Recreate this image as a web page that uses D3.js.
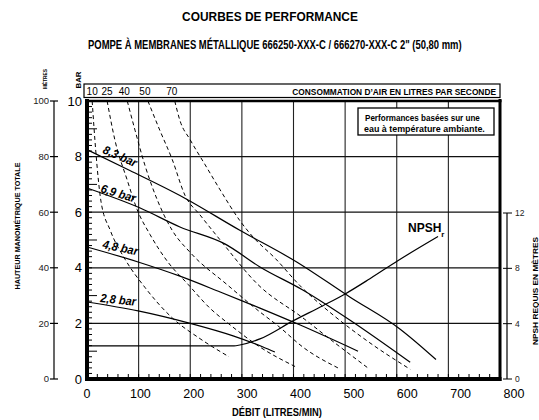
<!DOCTYPE html>
<html>
<head>
<meta charset="utf-8">
<script src="https://cdn.jsdelivr.net/npm/d3@7"></script>
<style>
	body { margin: 0; background: #fff; }
	text { font-family: "Liberation Sans Narrow", "Liberation Sans", Arial, sans-serif; fill: #000; }
</style>
</head>
<body>
<script>
const WIDTH = 539;
const HEIGHT = 420;

// axis ticks
const flowTicks = [0, 100, 200, 300, 400, 500, 600, 700, 800];
const barTicks = [0, 2, 4, 6, 8, 10];
const metreTicks = [0, 20, 40, 60, 80, 100];
const npshTicks = [0, 4, 8, 12];

// air consumption curves (litres per second), [flow L/min, bar]
const airLabels = ["10", "25", "40", "50", "70"];
const air10 = [[10, 10], [17, 8.2], [27, 6.4], [45, 5.35], [74, 4.3], [112, 3.3], [165, 2.2], [219, 1.45], [275, 0.8]];
const air25 = [[39, 10], [54, 8.6], [78, 7.15], [97, 6.1], [122, 5.2], [157, 4.2], [196, 3.4], [238, 2.55], [277, 1.95], [335, 1.15], [403, 0.45]];
const air40 = [[78, 10], [93, 8.95], [112, 7.7], [136, 6.45], [165, 5.35], [200, 4.55], [271, 3.4], [329, 2.5], [374, 1.85], [418, 1.15], [486, 0.4]];
const air50 = [[118, 10], [141, 8.95], [165, 7.9], [190, 6.6], [219, 5.9], [258, 5.0], [331, 3.4], [418, 2.2], [480, 1.3], [544, 0.4]];
const air70 = [[170, 10], [180, 9.3], [200, 8.6], [229, 7.7], [258, 6.8], [296, 5.7], [322, 5.1], [364, 4.35], [413, 3.35], [477, 2.3], [548, 1.3], [626, 0.35]];

// inlet air pressure curves, [flow L/min, bar]
const pressureLabels = ["8,3 bar", "6,9 bar", "4,8 bar", "2,8 bar"];
const p83 = [[0, 8.25], [83, 7.5], [180, 6.6], [296, 5.35], [407, 4.2], [509, 2.95], [606, 1.8], [676, 0.7]];
const p69 = [[0, 6.87], [103, 6.15], [180, 5.47], [267, 4.86], [335, 4.03], [418, 3.2], [509, 2.12], [626, 0.6]];
const p48 = [[0, 4.75], [99, 4.21], [180, 3.7], [258, 3.13], [335, 2.55], [413, 1.94], [525, 1.0]];
const p28 = [[0, 2.77], [99, 2.45], [200, 2.0], [283, 1.55], [341, 1.15], [364, 0.97]];

// NPSH required, [flow L/min, metres]
const npsh = [[0, 2.4], [285, 2.4], [296, 2.46], [335, 2.9], [399, 4.2], [457, 5.3], [500, 6.15], [548, 7.25], [602, 8.55], [680, 10.3]];

const svg = d3.select("body").append("svg")
	.attr("width", WIDTH)
	.attr("height", HEIGHT);

// scales
const x = d3.scaleLinear().domain([0, 800]).range([87, 500]);
const xLab = d3.scaleLinear().domain([0, 800]).range([87, 514]); // printed labels drift right
const y = d3.scaleLinear().domain([0, 10]).range([379, 101]);
const yM = d3.scaleLinear().domain([0, 100]).range([379, 101]);
const yN = d3.scaleLinear().domain([0, 12]).range([379, 213]);

// squeeze a text horizontally to a given width (condensed type look)
function fitText(sel, px, py, width, rot) {
	const k = width / sel.node().getComputedTextLength();
	sel.attr("transform", `translate(${px},${py})${rot ? ` rotate(${rot})` : ""} scale(${k},1)`);
	return sel;
}

function label(str, size, anchor) {
	return svg.append("text")
		.attr("text-anchor", anchor || "start")
		.style("font-weight", "bold").style("font-size", size + "px")
		.text(str);
}

// titles
fitText(label("COURBES DE PERFORMANCE", 12, "middle")
	.style("font-family", "'Liberation Sans', Arial, sans-serif"), 270, 21, 176);

fitText(label("POMPE À MEMBRANES MÉTALLIQUE 666250-XXX-C / 666270-XXX-C 2\" (50,80 mm)", 12), 88, 49, 374);

// grid
svg.append("g").selectAll("line")
	.data(flowTicks.slice(1, -1))
	.join("line")
	.attr("x1", d => x(d)).attr("x2", d => x(d))
	.attr("y1", y(10)).attr("y2", y(0))
	.attr("stroke", "#222").attr("stroke-width", 1.1);

svg.append("g").selectAll("line")
	.data(barTicks.slice(1, -1))
	.join("line")
	.attr("x1", x(0)).attr("x2", x(800))
	.attr("y1", d => y(d)).attr("y2", d => y(d))
	.attr("stroke", "#111").attr("stroke-width", 1.2);

// minor ticks along left and bottom edges
svg.append("g").selectAll("line")
	.data(d3.range(1, 50))
	.join("line")
	.attr("x1", x(0))
	.attr("x2", i => x(0) + ((i % 5 === 0 && (i / 5) % 2 === 1) ? 10 : 5))
	.attr("y1", i => y(i / 5)).attr("y2", i => y(i / 5))
	.attr("stroke", "#000").attr("stroke-width", 1);

svg.append("g").selectAll("line")
	.data(d3.range(1, 40).map(i => i * 20))
	.join("line")
	.attr("x1", d => x(d)).attr("x2", d => x(d))
	.attr("y1", y(0)).attr("y2", y(0) - 5)
	.attr("stroke", "#000").attr("stroke-width", 1);

// frame
svg.append("line").attr("x1", x(0)).attr("x2", x(0)).attr("y1", 99).attr("y2", 381)
	.attr("stroke", "#000").attr("stroke-width", 4);
svg.append("line").attr("x1", 85).attr("x2", 501.5).attr("y1", y(0)).attr("y2", y(0))
	.attr("stroke", "#000").attr("stroke-width", 4);
svg.append("line").attr("x1", x(800)).attr("x2", x(800)).attr("y1", 99).attr("y2", 381)
	.attr("stroke", "#000").attr("stroke-width", 3);
svg.append("line").attr("x1", 85).attr("x2", 501.5).attr("y1", y(10)).attr("y2", y(10))
	.attr("stroke", "#000").attr("stroke-width", 2.5);

// air consumption header
svg.append("rect")
	.attr("x", 84).attr("y", 84).attr("width", 416).attr("height", 13.5)
	.attr("fill", "none").attr("stroke", "#000").attr("stroke-width", 1.2);

const airSeries = [air10, air25, air40, air50, air70];

svg.append("g").selectAll("text")
	.data(airSeries)
	.join("text")
	.attr("x", (d, i) => x(d[0][0]) - (i > 1 ? 3 : 0))
	.attr("y", 95)
	.attr("text-anchor", "middle")
	.style("font-size", "10px")
	.text((d, i) => airLabels[i]);

fitText(label("CONSOMMATION D’AIR EN LITRES PAR SECONDE", 9, "end"), 496, 95, 204);

// curves
const line = d3.line()
	.x(d => x(d[0]))
	.y(d => y(d[1]))
	.curve(d3.curveMonotoneX);

svg.append("g").selectAll("path")
	.data(airSeries)
	.join("path")
	.attr("d", line)
	.attr("fill", "none")
	.attr("stroke", "#000").attr("stroke-width", 1)
	.attr("stroke-dasharray", "4,3");

const pressureSeries = [p83, p69, p48, p28];

svg.append("g").selectAll("path")
	.data(pressureSeries)
	.join("path")
	.attr("d", line)
	.attr("fill", "none")
	.attr("stroke", "#000").attr("stroke-width", 1.2);

const npshLine = d3.line()
	.x(d => x(d[0]))
	.y(d => yN(d[1]))
	.curve(d3.curveMonotoneX);

svg.append("path")
	.datum(npsh)
	.attr("d", npshLine)
	.attr("fill", "none")
	.attr("stroke", "#000").attr("stroke-width", 1.2);

// pressure labels, placed just above each curve's start
const labelLayout = [
	{ dx: 29, dy: 3, rot: 24 },
	{ dx: 25, dy: 4, rot: 17 },
	{ dx: 29, dy: 1, rot: 12 },
	{ dx: 25, dy: 0, rot: 6 }
];

pressureSeries.forEach((d, i) => {
	const t = label(pressureLabels[i], 12).style("font-style", "italic");
	fitText(t, x(labelLayout[i].dx), y(d[0][1]) + labelLayout[i].dy, 36, labelLayout[i].rot);
});

// NPSH label
const npshLabel = svg.append("text")
	.attr("x", 408).attr("y", 232)
	.style("font-weight", "bold").style("font-size", "12px");
npshLabel.append("tspan").text("NPSH");
npshLabel.append("tspan").attr("dy", 5).style("font-size", "8px").text("r");

// note box
svg.append("rect")
	.attr("x", 358).attr("y", 108).attr("width", 136).attr("height", 27)
	.attr("fill", "#fff").attr("stroke", "#000").attr("stroke-width", 1.3);
fitText(label("Performances basées sur une", 8.5), 365, 120.5, 115);
fitText(label("eau à température ambiante.", 8.5), 364, 131.5, 121);

// metres axis (far left)
svg.append("line")
	.attr("x1", 54).attr("x2", 54).attr("y1", yM(100)).attr("y2", yM(0))
	.attr("stroke", "#000").attr("stroke-width", 1.2);
svg.append("g").selectAll("line")
	.data(metreTicks)
	.join("line")
	.attr("x1", 50).attr("x2", 58)
	.attr("y1", d => yM(d)).attr("y2", d => yM(d))
	.attr("stroke", "#000").attr("stroke-width", 1.2);
svg.append("g").selectAll("text")
	.data(metreTicks)
	.join("text")
	.attr("x", 49).attr("y", d => yM(d))
	.attr("dy", "0.35em")
	.attr("text-anchor", "end")
	.style("font-family", "'Liberation Sans', Arial, sans-serif")
	.style("font-size", "9.5px").style("fill", "#222")
	.text(d => d);

// bar labels
svg.append("g").selectAll("text")
	.data(barTicks)
	.join("text")
	.attr("x", 82).attr("y", d => y(d))
	.attr("dy", "0.36em")
	.attr("text-anchor", "end")
	.style("font-family", "'Liberation Sans', Arial, sans-serif")
	.style("font-size", "13px")
	.text(d => d);

// flow labels
svg.append("g").selectAll("text")
	.data(flowTicks)
	.join("text")
	.attr("x", d => xLab(d)).attr("y", 398)
	.attr("text-anchor", "middle")
	.style("font-family", "'Liberation Sans', Arial, sans-serif")
	.style("font-size", "12.5px")
	.text(d => d);

// NPSH axis (right)
svg.append("line")
	.attr("x1", 507).attr("x2", 507).attr("y1", yN(12)).attr("y2", yN(0))
	.attr("stroke", "#000").attr("stroke-width", 1.2);
svg.append("g").selectAll("line")
	.data(npshTicks)
	.join("line")
	.attr("x1", 503).attr("x2", 512)
	.attr("y1", d => yN(d)).attr("y2", d => yN(d))
	.attr("stroke", "#000").attr("stroke-width", 1);
svg.append("g").selectAll("text")
	.data(npshTicks)
	.join("text")
	.attr("x", 515).attr("y", d => yN(d))
	.attr("dy", "0.35em")
	.style("font-family", "'Liberation Sans', Arial, sans-serif")
	.style("font-size", "8.5px").style("fill", "#222")
	.text(d => d);

// axis titles
fitText(label("DÉBIT (LITRES/MIN)", 10, "middle"), 277, 416, 90);
fitText(label("HAUTEUR MANOMÉTRIQUE TOTALE", 8, "middle"), 20, 226, 127, -90);
fitText(label("MÈTRES", 5.5, "middle"), 47, 79, 20, -90);
fitText(label("BAR", 8, "middle"), 81, 80, 17, -90);
fitText(label("NPSH REQUIS EN MÈTRES", 7.5, "middle"), 538, 291, 108, -90);
</script>
</body>
</html>
